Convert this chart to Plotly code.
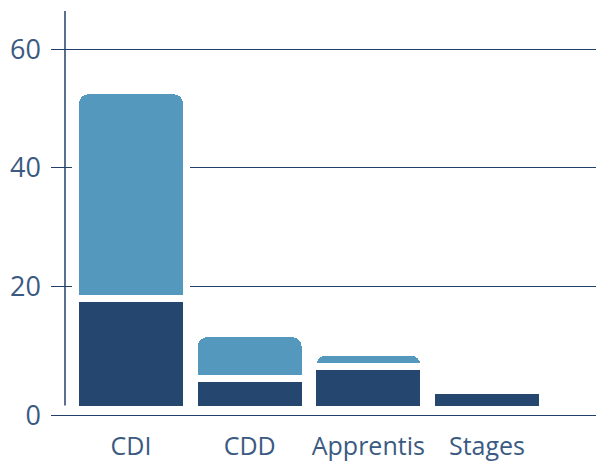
import plotly.graph_objects as go

categories = ["CDI", "CDD", "Apprentis", "Stages"]
dark_values = [18, 4.6, 6.5, 2.0]
light_values = [35, 7.5, 2.5, 0]
tick_values = [0, 20, 40, 60]
tick_labels = ["0", "20", "40", "60"]

DARK = "#25466e"
LIGHT = "#5498be"
LINE = "#23406a"
TEXT = "#3b5a82"
FONT = "Open Sans"
GAP_PX = 7              # white stroke width making the gap between segments
BASELINE_SHIFT = -1.65  # baseline drawn slightly below zero
BAR_W = 0.876
PX_PER_CAT = 118.7
X_RANGE = [-0.674, 3.986]
Y_RANGE = [-2.44, 66.41]

x = list(range(len(categories)))
gap_widths = [GAP_PX if v else 0 for v in light_values]

fig = go.Figure()
# visible dark segments (square corners) on the base subplot
fig.add_trace(go.Bar(x=x, y=dark_values, width=BAR_W, xaxis="x", yaxis="y",
                     marker=dict(color=DARK, line=dict(width=0)),
                     hoverinfo="skip"))
# overlay subplot: transparent copy of dark values as stacking base, light on top
fig.add_trace(go.Bar(x=x, y=dark_values, width=BAR_W, xaxis="x2", yaxis="y",
                     marker=dict(color="rgba(0,0,0,0)", line=dict(width=0)),
                     hoverinfo="skip"))
fig.add_trace(go.Bar(x=x, y=light_values, width=BAR_W + GAP_PX / PX_PER_CAT,
                     xaxis="x2", yaxis="y",
                     marker=dict(color=LIGHT, line=dict(width=gap_widths, color="white"),
                                 cornerradius=13),
                     hoverinfo="skip"))

tickvals = [v if v != 0 else BASELINE_SHIFT for v in tick_values]

fig.update_layout(
    barmode="stack",
    width=596, height=454,
    margin=dict(l=43, r=0, t=3, b=42, autoexpand=False),
    plot_bgcolor="white", paper_bgcolor="white",
    showlegend=False,
    font=dict(family=FONT, color=TEXT, size=25),
    xaxis=dict(range=X_RANGE, tickvals=x, ticktext=categories,
               showgrid=False, zeroline=False, showline=False, ticks="",
               automargin=False, ticklabelstandoff=9,
               tickfont=dict(size=25, color=TEXT)),
    xaxis2=dict(range=X_RANGE, overlaying="x", matches="x", visible=False),
    yaxis=dict(range=Y_RANGE, tickvals=tickvals, ticktext=tick_labels,
               showgrid=True, gridcolor=LINE, gridwidth=1, zeroline=False,
               showline=False, ticks="", automargin=False, ticklabelstandoff=9,
               tickfont=dict(size=27, color=TEXT)),
    shapes=[dict(type="line", xref="paper", yref="y", x0=14/553, x1=14/553,
                 y0=0, y1=Y_RANGE[1], line=dict(color=LINE, width=1.5), layer="above")],
)

fig.write_html("out.html")
